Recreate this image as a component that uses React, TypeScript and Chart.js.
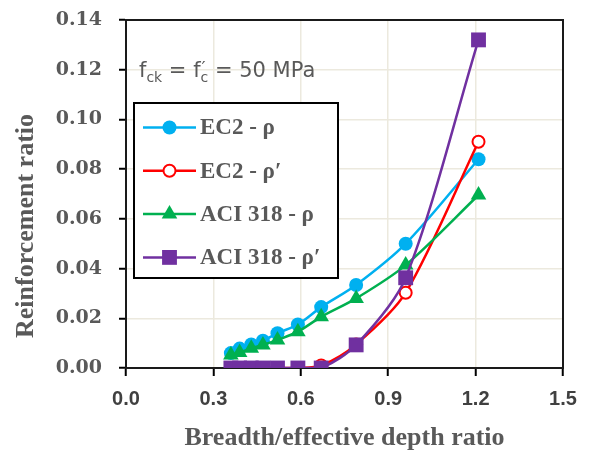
import React, { useEffect, useRef } from 'react';
import { Chart, registerables } from 'chart.js';

Chart.register(...registerables);

// ---- data ----
const xValues = [0.36, 0.39, 0.43, 0.47, 0.52, 0.59, 0.67, 0.79, 0.96, 1.21];
const ec2Rho = [0.006, 0.0078, 0.0095, 0.011, 0.014, 0.0175, 0.0245, 0.0334, 0.05, 0.084];
const ec2RhoPrime = [0, 0, 0, 0, 0, 0, 0.001, 0.0095, 0.0303, 0.091];
const aciRho = [0.0052, 0.0062, 0.0079, 0.0093, 0.0113, 0.0146, 0.0206, 0.028, 0.0414, 0.0696];
const aciRhoPrime = [0, 0, 0, 0, 0, 0, 0, 0.0093, 0.0363, 0.132];
const seriesLabels = ['EC2 - ρ', 'EC2 - ρ′', 'ACI 318 - ρ', 'ACI 318 - ρ′'];
const xTickValues = [0, 0.3, 0.6, 0.9, 1.2, 1.5];
const yTickValues = [0, 0.02, 0.04, 0.06, 0.08, 0.1, 0.12, 0.14];
const xTitle = 'Breadth/effective depth ratio';
const yTitle = 'Reinforcement ratio';

const W = 589;
const H = 451;

const toPoints = (ys: number[]) => xValues.map((x, i) => ({ x, y: ys[i] }));

const drawMarker = (ctx: CanvasRenderingContext2D, style: string, x: number, y: number, r: number, fill: string, stroke: string, bw: number) => {
  ctx.save();
  ctx.beginPath();
  if (style === 'circle') {
    ctx.arc(x, y, r, 0, Math.PI * 2);
  } else if (style === 'triangle') {
    ctx.moveTo(x, y - r);
    ctx.lineTo(x + r * Math.sin(Math.PI * 2 / 3), y - r * Math.cos(Math.PI * 2 / 3));
    ctx.lineTo(x - r * Math.sin(Math.PI * 2 / 3), y - r * Math.cos(Math.PI * 2 / 3));
    ctx.closePath();
  } else {
    const s = r * Math.SQRT1_2;
    ctx.rect(x - s, y - s, 2 * s, 2 * s);
  }
  ctx.fillStyle = fill;
  ctx.fill();
  if (bw > 0) {
    ctx.lineWidth = bw;
    ctx.strokeStyle = stroke;
    ctx.stroke();
  }
  ctx.restore();
};

const framePlugin = {
  id: 'frame',
  beforeDatasetsDraw(chart: any) {
    const { ctx, chartArea: a } = chart;
    ctx.save();
    ctx.strokeStyle = '#1a1a1a';
    ctx.lineWidth = 2;
    ctx.strokeRect(a.left, a.top, a.right - a.left, a.bottom - a.top);
    ctx.restore();
  },
};

const yTitlePlugin = {
  id: 'yTitle',
  afterDraw(chart: any) {
    const { ctx } = chart;
    ctx.save();
    ctx.translate(26, 226);
    ctx.rotate(-Math.PI / 2);
    ctx.fillStyle = '#595959';
    ctx.font = 'bold 26px "Liberation Serif"';
    ctx.textAlign = 'center';
    ctx.textBaseline = 'middle';
    ctx.fillText(yTitle, 0, 0);
    ctx.restore();
  },
};

const annotationPlugin = {
  id: 'annot',
  afterDraw(chart: any) {
    const { ctx } = chart;
    ctx.save();
    ctx.fillStyle = '#595959';
    ctx.textBaseline = 'alphabetic';
    let x = 139;
    const base = 77;
    const big = '21px "DejaVu Sans"';
    const small = '14px "DejaVu Sans"';
    const put = (t: string, font: string, dy: number, dx = 0) => {
      ctx.font = font;
      ctx.fillText(t, x + dx, base + dy);
      return ctx.measureText(t).width;
    };
    x += put('f', big, 0);
    x += put('ck', small, 5);
    x += put(' = ', big, 0);
    x += put('f', big, 0);
    const wp = put('′', '18px "DejaVu Sans"', -3, 1);
    const wc = put('c', small, 5);
    x += Math.max(wp, wc);
    x += put(' = 50 MPa', big, 0);
    ctx.restore();
  },
};

const legendPlugin = {
  id: 'boxLegend',
  afterDatasetsDraw(chart: any) {
    const { ctx } = chart;
    const left = 134, top = 103, right = 338, bottom = 278;
    ctx.save();
    ctx.fillStyle = '#ffffff';
    ctx.fillRect(left, top, right - left, bottom - top);
    ctx.strokeStyle = '#000000';
    ctx.lineWidth = 2;
    ctx.strokeRect(left, top, right - left, bottom - top);
    const ds = chart.data.datasets;
    const rowH = 43.3;
    ds.forEach((d: any, i: number) => {
      const y = 127.5 + i * rowH;
      ctx.beginPath();
      ctx.moveTo(143, y);
      ctx.lineTo(196, y);
      ctx.strokeStyle = d.borderColor;
      ctx.lineWidth = d.borderWidth;
      ctx.stroke();
      drawMarker(ctx, d.pointStyle, 169.5, y, d.pointRadius, d.pointBackgroundColor, d.pointBorderColor, d.pointBorderWidth);
      ctx.fillStyle = '#595959';
      ctx.font = 'bold 23px "Liberation Serif"';
      ctx.textBaseline = 'middle';
      ctx.fillText(seriesLabels[i], 200, y + 1);
    });
    ctx.restore();
  },
};

export default function App() {
  const ref = useRef<HTMLCanvasElement | null>(null);

  useEffect(() => {
    if (!ref.current) return;
    const mk = (i: number, ys: number[], color: string, style: string, r: number, fill: string, bw: number, order: number) => ({
      label: seriesLabels[i],
      data: toPoints(ys),
      borderColor: color,
      backgroundColor: fill,
      borderWidth: 2.5,
      pointStyle: style,
      pointRadius: r,
      pointHoverRadius: r,
      pointBackgroundColor: fill,
      pointBorderColor: color,
      pointBorderWidth: bw,
      tension: 0.3,
      fill: false,
      order,
    });
    const chart = new Chart(ref.current, {
      type: 'line',
      data: {
        datasets: [
          mk(0, ec2Rho, '#00B0F0', 'circle', 7, '#00B0F0', 0, 4),
          mk(1, ec2RhoPrime, '#FF0000', 'circle', 6, '#FFFFFF', 2, 3),
          mk(2, aciRho, '#00B050', 'triangle', 9, '#00B050', 0, 2),
          mk(3, aciRhoPrime, '#7030A0', 'rect', 10.5, '#7030A0', 0, 1),
        ] as any,
      },
      options: {
        responsive: false,
        animation: false,
        devicePixelRatio: 1,
        layout: { padding: { left: 0, top: 20, right: 26, bottom: 0 } },
        plugins: { legend: { display: false }, tooltip: { enabled: false } },
        scales: {
          x: {
            type: 'linear',
            min: 0,
            max: 1.5,
            afterBuildTicks: (s: any) => { s.ticks = xTickValues.map((v) => ({ value: v })); },
            afterFit: (s: any) => { s.height = 83; s.paddingLeft = 0; s.paddingRight = 0; },
            ticks: {
              callback: (v: any) => Number(v).toFixed(1),
              font: { family: '"Liberation Sans"', size: 20, weight: 'bold' },
              color: '#404040',
              padding: 11,
              maxRotation: 0,
            },
            grid: { color: '#ECE9DE', lineWidth: 1.5, tickColor: '#000', tickLength: 8, tickWidth: 2 },
            border: { color: '#000', width: 2 },
            title: {
              display: true,
              text: xTitle,
              color: '#595959',
              font: { family: '"Liberation Serif"', size: 26, weight: 'bold' },
              padding: { top: 0, bottom: -3 },
            },
          },
          y: {
            type: 'linear',
            min: 0,
            max: 0.14,
            afterBuildTicks: (s: any) => { s.ticks = yTickValues.map((v) => ({ value: v })); },
            afterFit: (s: any) => { s.width = 126; s.paddingTop = 0; s.paddingBottom = 0; },
            ticks: {
              callback: (v: any) => Number(v).toFixed(2),
              font: { family: '"DejaVu Serif"', size: 19, weight: 'bold' },
              color: '#595959',
              padding: 17,
            },
            grid: { color: '#ECE9DE', lineWidth: 1.5, tickColor: '#000', tickLength: 7, tickWidth: 2 },
            border: { color: '#000', width: 2 },
            title: { display: false },
          },
        },
      } as any,
      plugins: [framePlugin, legendPlugin, annotationPlugin, yTitlePlugin],
    });
    return () => chart.destroy();
  }, []);

  return (
    <div style={{ position: 'absolute', left: 0, top: 0, width: W, height: H, background: '#fff' }}>
      <canvas ref={ref} width={W} height={H} style={{ display: 'block', width: W, height: H }} />
    </div>
  );
}
